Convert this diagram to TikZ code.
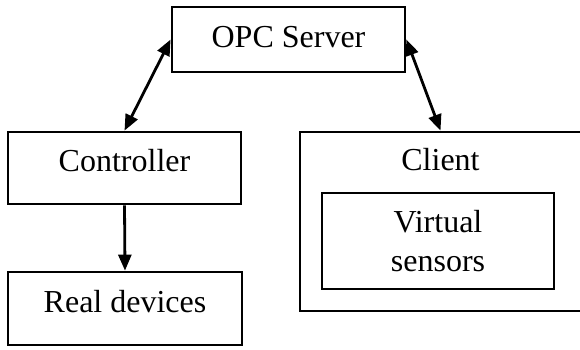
\documentclass[tikz,border=0pt]{standalone}
\usepackage{fontspec}
\setmainfont{Liberation Serif}
\usetikzlibrary{arrows.meta}
\begin{document}
\begin{tikzpicture}[x=1pt,y=-1pt,
  every node/.style={font=\fontsize{32}{38.7}\selectfont},
  box/.style={draw,line width=2.8pt,inner sep=0pt,
    text height=21pt,text depth=14pt},
  link/.style={line width=2.8pt,-{Triangle[length=16pt,width=13pt]}},
  both/.style={line width=2.8pt,{Triangle[length=16pt,width=13pt]}-{Triangle[length=16pt,width=13pt]}}]
  \useasboundingbox (0,0) rectangle (580,349);
  \clip (0,0) rectangle (580,349);

  % top server block
  \node[box,minimum width=233pt,minimum height=65pt,
        text height=21pt,text depth=6pt] (opc) at (288.5,39.5) {OPC Server};

  % left column
  \node[box,minimum width=233pt,minimum height=72pt] (ctrl) at (124.5,168) {Controller};
  \node[box,minimum width=234pt,minimum height=73pt] (real) at (125,308.5) {Real devices};

  % right column: client containing the virtual sensors
  \node[box,minimum width=281pt,minimum height=179pt] (client) at (440.5,221.5) {};
  \node[anchor=base] (clientlabel) at (440.5,170) {Client};
  \node[box,minimum width=232pt,minimum height=96pt,align=center,
        text height=60pt,text depth=0pt] (virt) at (438,241) {Virtual\\sensors};

  % connectors
  \draw[both] (opc.west) -- (ctrl.north);
  \draw[both] (opc.east) -- (client.north);
  \draw[link] (ctrl.south) -- (real.north);
\end{tikzpicture}
\end{document}
